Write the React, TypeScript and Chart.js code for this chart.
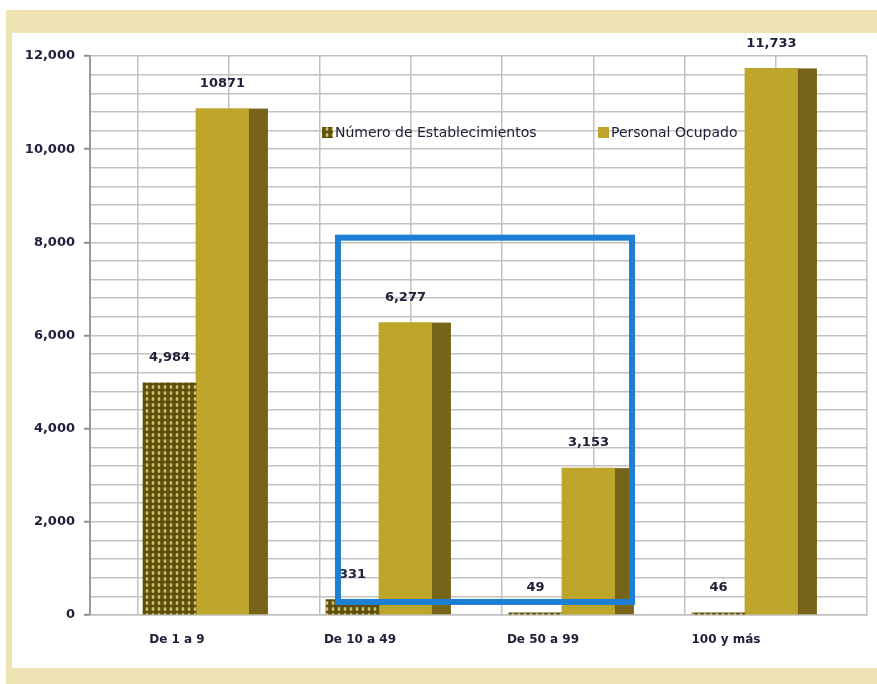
import React, { useEffect, useRef } from 'react';
import { Chart, registerables } from 'chart.js';

Chart.register(...registerables);

// ---------- data ----------
const categories = ['De 1 a 9', 'De 10 a 49', 'De 50 a 99', '100 y más'];
const seriesNames = ['Número de Establecimientos', 'Personal Ocupado'];
const establecimientos = [4984, 331, 49, 46];
const personal = [10871, 6277, 3153, 11733];
const establecimientosLabels = ['4,984', '331', '49', '46'];
const personalLabels = ['10871', '6,277', '3,153', '11,733'];
const yLabelTicks = [0, 2000, 4000, 6000, 8000, 10000, 12000];
const Y_MIN = 0;
const Y_MAX = 12000;
const Y_MINOR_STEP = 400;
// highlighted region (data coordinates: category index, value)
const highlightX = [0.776, 2.383];
const highlightY = [280, 8100];

// ---------- styling ----------
const TEXT = '#20203a';
const GRID = '#c2c2c2';
const GOLD = '#bea52b';
const GOLD_SIDE = '#766519';
const BLUE = '#1c7fd3';
const FONT = 'DejaVu Sans';
const SIDE_W = 19;
const X_START = -0.579;
const X_RANGE = 4.246;
const X2_MIN = -0.52;
const X2_MAX = 8;
const gridCols = [0, 1, 2, 3, 4, 5, 6, 7, 8];

function makePattern(): CanvasPattern | string {
  const c = document.createElement('canvas');
  c.width = 6;
  c.height = 6;
  const g = c.getContext('2d');
  if (!g) return '#6a5c14';
  g.fillStyle = '#5e510e';
  g.fillRect(0, 0, 6, 6);
  g.fillStyle = '#d2c06a';
  g.beginPath();
  g.ellipse(3, 3, 1.4, 1.9, 0, 0, Math.PI * 2);
  g.fill();
  return g.createPattern(c, 'repeat') || '#6a5c14';
}

const sidePlugin = {
  id: 'side3d',
  afterDatasetsDraw(chart: any) {
    const ctx = chart.ctx;
    const meta = chart.getDatasetMeta(1);
    ctx.save();
    ctx.fillStyle = GOLD_SIDE;
    meta.data.forEach((bar: any) => {
      const p = bar.getProps(['x', 'y', 'base', 'width'], true);
      ctx.fillRect(p.x + p.width / 2, p.y, SIDE_W, p.base - p.y);
    });
    ctx.restore();
  },
};

const valueLabelPlugin = {
  id: 'valueLabels',
  afterDatasetsDraw(chart: any) {
    const ctx = chart.ctx;
    const sets = [establecimientosLabels, personalLabels];
    ctx.save();
    ctx.font = `bold 13px "${FONT}"`;
    ctx.fillStyle = TEXT;
    ctx.textAlign = 'center';
    ctx.textBaseline = 'middle';
    sets.forEach((labels, di) => {
      const meta = chart.getDatasetMeta(di);
      meta.data.forEach((bar: any, i: number) => {
        const p = bar.getProps(['x', 'y'], true);
        ctx.fillText(labels[i], p.x, p.y - 25);
      });
    });
    ctx.restore();
  },
};

const legendPlugin = {
  id: 'insideLegend',
  afterDraw(chart: any) {
    const ctx = chart.ctx;
    const a = chart.chartArea;
    const ds = chart.data.datasets;
    const cy = a.top + 77;
    const items = [
      { sx: a.left + 232, fill: ds[0].backgroundColor },
      { sx: a.left + 508, fill: ds[1].backgroundColor },
    ];
    ctx.save();
    ctx.font = `14px "${FONT}"`;
    ctx.textBaseline = 'middle';
    items.forEach((it, i) => {
      ctx.fillStyle = it.fill;
      ctx.fillRect(it.sx, cy - 6, 11, 11);
      ctx.fillStyle = TEXT;
      ctx.fillText(ds[i].label, it.sx + 13, cy);
    });
    ctx.restore();
  },
};

const highlightPlugin = {
  id: 'highlightBox',
  afterDraw(chart: any) {
    const xs = chart.scales.x;
    const ys = chart.scales.y;
    const x1 = xs.getPixelForValue(highlightX[0]);
    const x2 = xs.getPixelForValue(highlightX[1]);
    const y1 = ys.getPixelForValue(highlightY[1]);
    const y2 = ys.getPixelForValue(highlightY[0]);
    const ctx = chart.ctx;
    ctx.save();
    ctx.strokeStyle = BLUE;
    ctx.lineWidth = 6;
    ctx.strokeRect(x1, y1, x2 - x1, y2 - y1);
    ctx.restore();
  },
};

export default function App() {
  const ref = useRef<HTMLCanvasElement | null>(null);

  useEffect(() => {
    if (!ref.current) return;
    const pattern = makePattern();
    const chart = new Chart(ref.current, {
      type: 'bar',
      data: {
        labels: categories,
        datasets: [
          {
            label: seriesNames[0],
            data: establecimientos,
            backgroundColor: pattern as any,
            barThickness: 53,
            xAxisID: 'x',
            yAxisID: 'y',
          },
          {
            label: seriesNames[1],
            data: personal,
            backgroundColor: GOLD,
            barThickness: 53,
            xAxisID: 'x',
            yAxisID: 'y',
          },
        ],
      },
      options: {
        responsive: false,
        animation: false,
        devicePixelRatio: 1,
        layout: { padding: { top: 56, right: 10, left: 0, bottom: 0 } },
        plugins: { legend: { display: false }, tooltip: { enabled: false } },
        scales: {
          x: {
            type: 'category',
            position: 'bottom',
            afterBuildTicks: (s: any) => {
              s._startValue = X_START;
              s._valueRange = X_RANGE;
            },
            afterFit: (s: any) => {
              s.height = 69;
            },
            grid: { display: false, drawTicks: false },
            border: { display: true, color: GRID, width: 1.5 },
            ticks: {
              padding: 18,
              labelOffset: -19,
              color: TEXT,
              font: { family: FONT, size: 12, weight: 'bold' },
            },
          },
          x2: {
            type: 'linear',
            position: 'top',
            min: X2_MIN,
            max: X2_MAX,
            offset: false,
            bounds: 'data',
            afterBuildTicks: (s: any) => {
              s.ticks = gridCols.map((v) => ({ value: v }));
              s.min = X2_MIN;
              s.max = X2_MAX;
            },
            afterFit: (s: any) => {
              s.height = 0;
            },
            ticks: { display: false },
            grid: { color: GRID, lineWidth: 1.5, drawTicks: false, offset: false },
            border: { display: false },
          },
          y: {
            min: Y_MIN,
            max: Y_MAX,
            afterFit: (s: any) => {
              s.width = 90;
            },
            ticks: {
              stepSize: Y_MINOR_STEP,
              autoSkip: false,
              padding: 9,
              color: TEXT,
              font: { family: FONT, size: 13, weight: 'bold' },
              callback: (v: any) =>
                yLabelTicks.includes(Number(v)) ? Number(v).toLocaleString('en-US') : '',
            },
            grid: {
              color: GRID,
              lineWidth: 1.5,
              tickLength: 6,
              tickWidth: 2,
              tickColor: (c: any) =>
                c.tick && yLabelTicks.includes(c.tick.value) ? '#8f8f8f' : 'rgba(0,0,0,0)',
            },
            border: { color: '#9a9a9a', width: 2 },
          },
        },
      },
      plugins: [sidePlugin, valueLabelPlugin, legendPlugin, highlightPlugin],
    } as any);
    return () => chart.destroy();
  }, []);

  return (
    <div style={{ position: 'fixed', left: 0, top: 0, width: 877, height: 684, background: '#ffffff', overflow: 'hidden' }}>
      <div style={{ position: 'absolute', left: 6, top: 10, width: 871, height: 674, background: '#ede3b3' }} />
      <div style={{ position: 'absolute', left: 12, top: 33, width: 865, height: 635, background: '#ffffff' }} />
      <canvas ref={ref} width={877} height={684} style={{ position: 'absolute', left: 0, top: 0, width: 877, height: 684 }} />
    </div>
  );
}
